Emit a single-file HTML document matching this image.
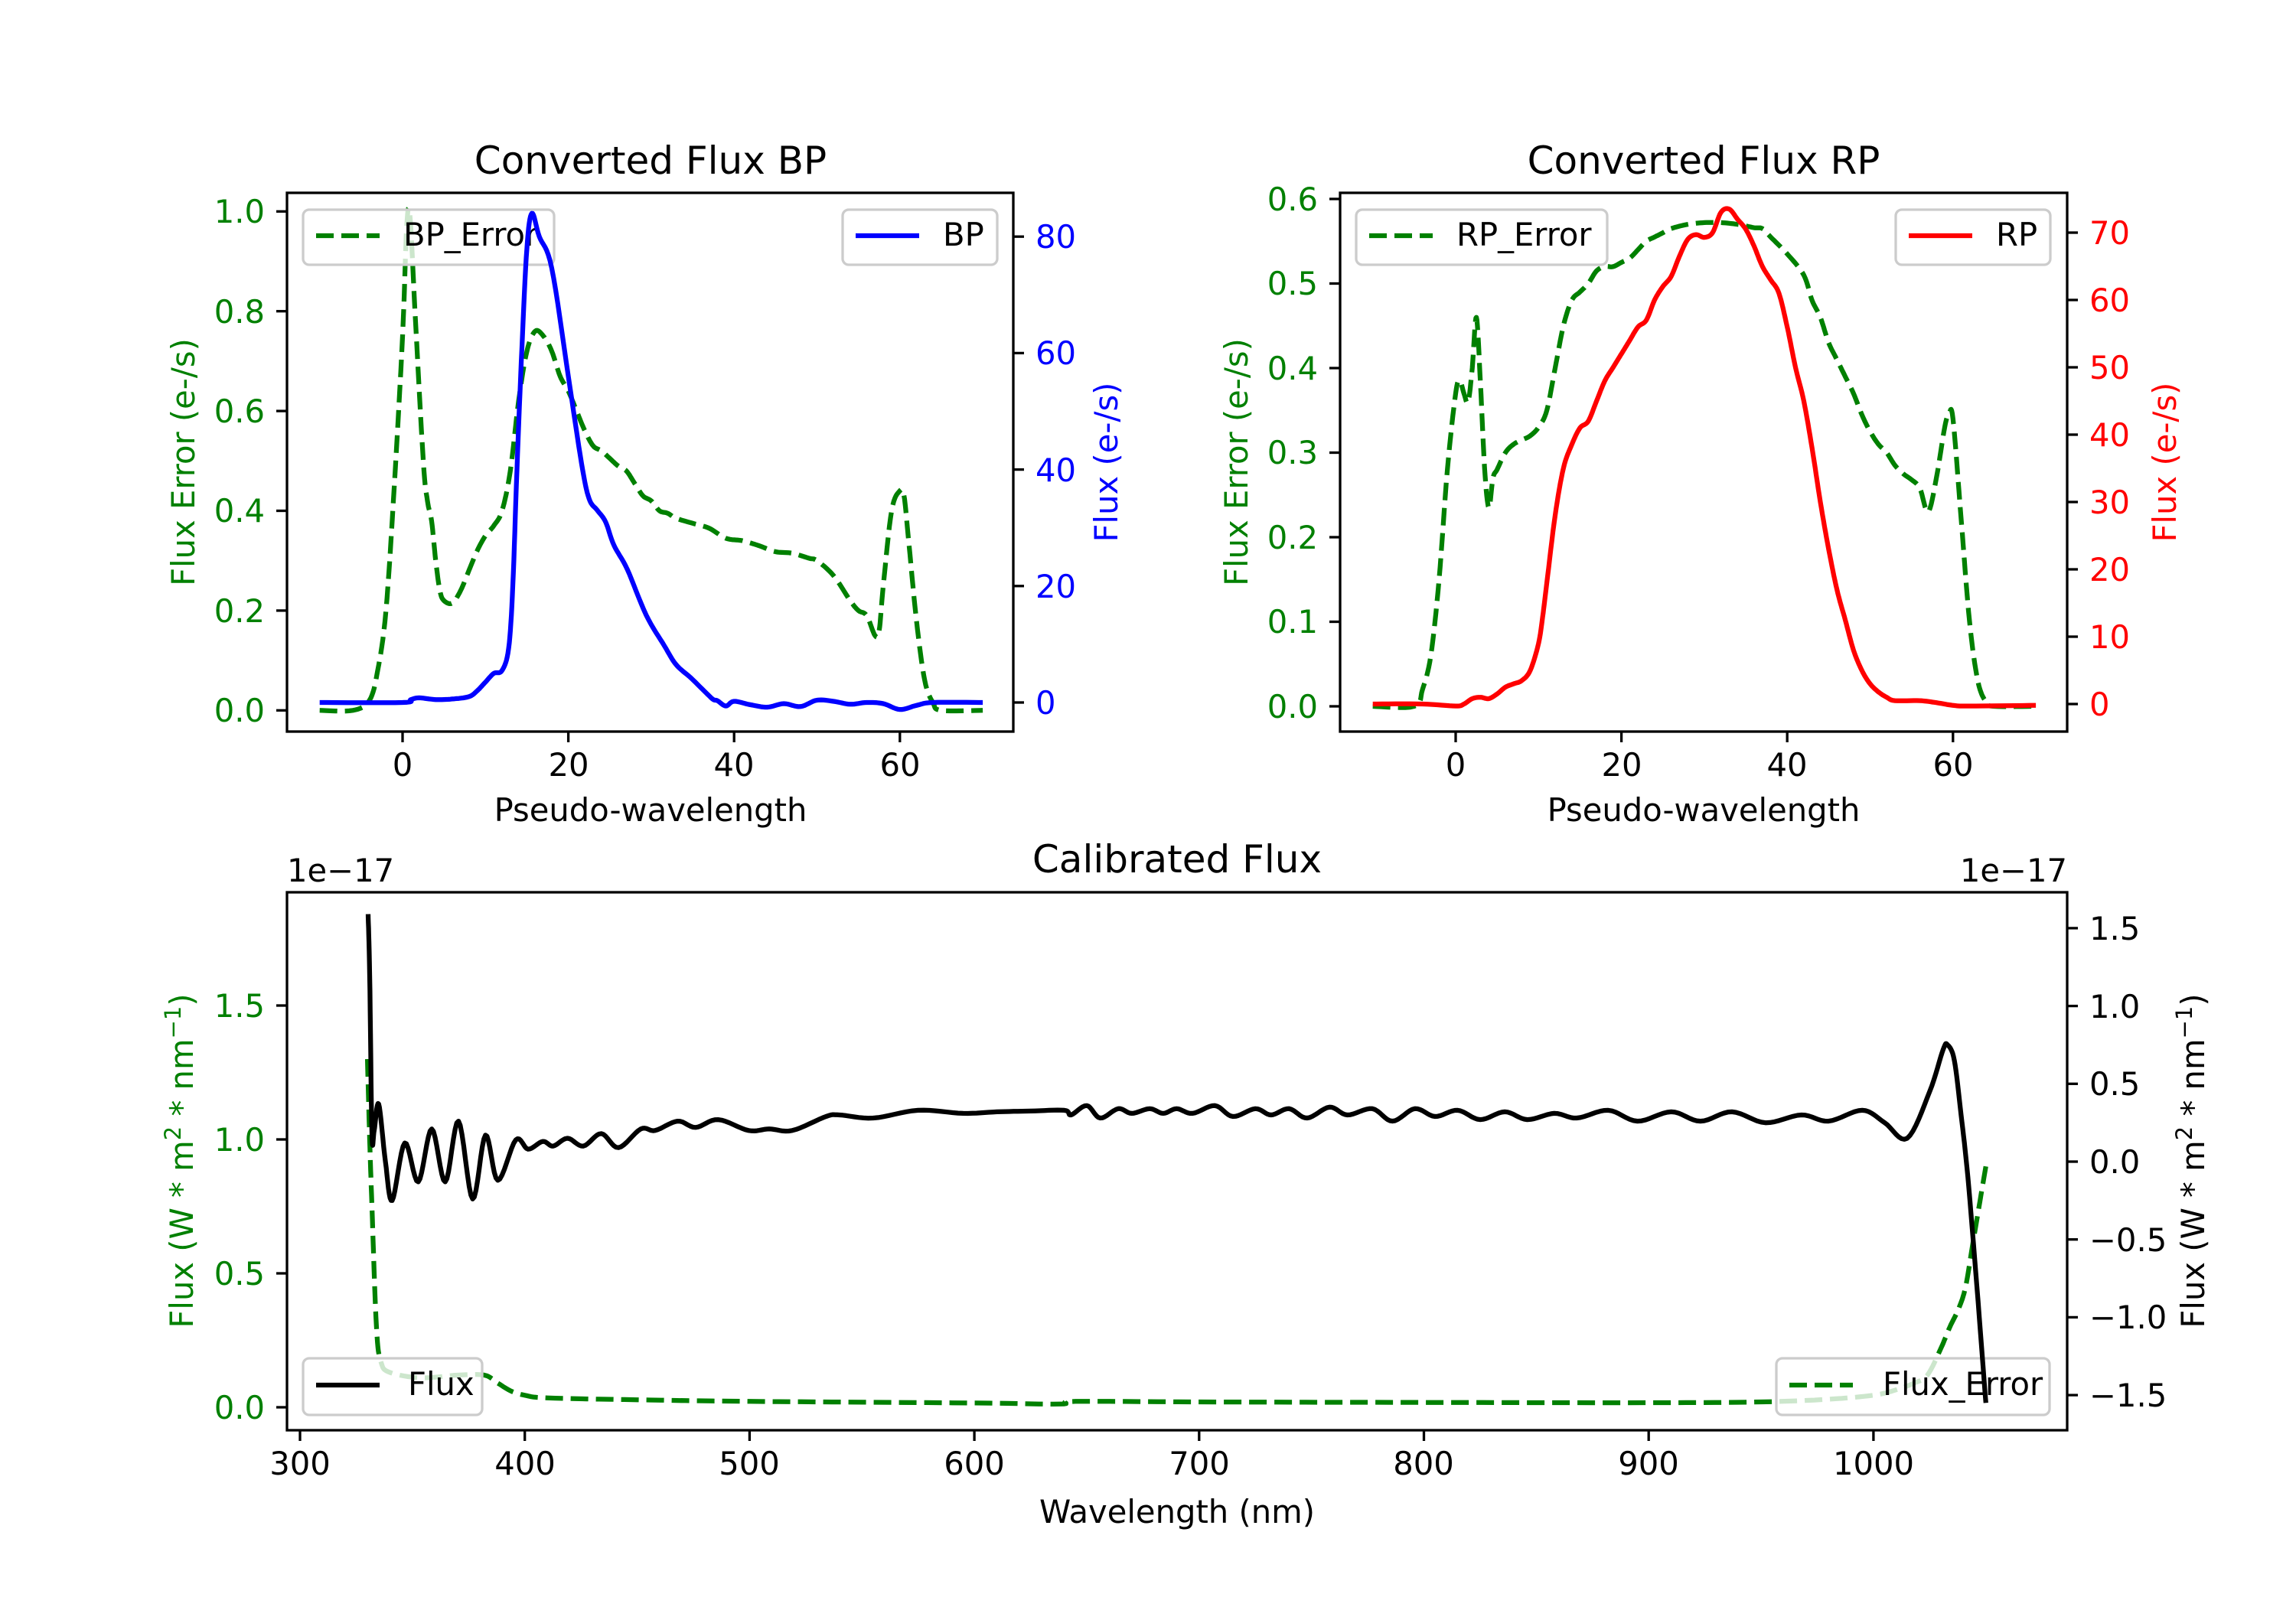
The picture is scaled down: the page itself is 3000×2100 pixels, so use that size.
<!DOCTYPE html>
<html><head><meta charset="utf-8"><style>
html,body{margin:0;padding:0;background:#fff}
svg{display:block}
text{font-family:"DejaVu Sans","Liberation Sans",sans-serif}
</style></head><body>
<svg id="s" width="3000" height="2100" viewBox="0 0 3000 2100" xmlns="http://www.w3.org/2000/svg">
<rect width="3000" height="2100" fill="#fff"/>
<defs>
<clipPath id="cBP"><rect x="375" y="252" width="949" height="704"/></clipPath>
<clipPath id="cRP"><rect x="1751" y="252" width="950" height="704"/></clipPath>
<clipPath id="cCF"><rect x="375" y="1166" width="2326" height="703"/></clipPath>
</defs>
<g id="layer"></g>

<text x="850" y="227" font-size="50" text-anchor="middle">Converted Flux BP</text>
<text x="2226" y="227" font-size="50" text-anchor="middle">Converted Flux RP</text>
<text x="1538" y="1140" font-size="50" text-anchor="middle">Calibrated Flux</text>

<g font-size="41.7" fill="#000" text-anchor="middle">
<text x="526" y="1014">0</text><text x="743" y="1014">20</text><text x="959" y="1014">40</text><text x="1176" y="1014">60</text>
<text x="1902" y="1014">0</text><text x="2119" y="1014">20</text><text x="2335" y="1014">40</text><text x="2552" y="1014">60</text>
</g>
<text x="850" y="1073" font-size="41.7" text-anchor="middle">Pseudo-wavelength</text>
<text x="2226" y="1073" font-size="41.7" text-anchor="middle">Pseudo-wavelength</text>
<g font-size="41.7" fill="#008000" text-anchor="end">
<text x="346" y="943">0.0</text><text x="346" y="813">0.2</text><text x="346" y="682">0.4</text><text x="346" y="552">0.6</text><text x="346" y="422">0.8</text><text x="346" y="291">1.0</text>
<text x="1722" y="938">0.0</text><text x="1722" y="827">0.1</text><text x="1722" y="717">0.2</text><text x="1722" y="606">0.3</text><text x="1722" y="496">0.4</text><text x="1722" y="385">0.5</text><text x="1722" y="275">0.6</text>
</g>
<g font-size="41.7" fill="#0000ff">
<text x="1353" y="933">0</text><text x="1353" y="781">20</text><text x="1353" y="629">40</text><text x="1353" y="476">60</text><text x="1353" y="324">80</text>
</g>
<g font-size="41.7" fill="#ff0000">
<text x="2730" y="935">0</text><text x="2730" y="847">10</text><text x="2730" y="759">20</text><text x="2730" y="671">30</text><text x="2730" y="583">40</text><text x="2730" y="495">50</text><text x="2730" y="407">60</text><text x="2730" y="319">70</text>
</g>
<text transform="translate(254,604) rotate(-90)" font-size="41.7" fill="#008000" text-anchor="middle">Flux Error (e-/s)</text>
<text transform="translate(1460,604) rotate(-90)" font-size="41.7" fill="#0000ff" text-anchor="middle">Flux (e-/s)</text>
<text transform="translate(1630,604) rotate(-90)" font-size="41.7" fill="#008000" text-anchor="middle">Flux Error (e-/s)</text>
<text transform="translate(2843,604) rotate(-90)" font-size="41.7" fill="#ff0000" text-anchor="middle">Flux (e-/s)</text>

<g font-size="41.7" fill="#000" text-anchor="middle">
<text x="392" y="1927">300</text><text x="686" y="1927">400</text><text x="979" y="1927">500</text><text x="1273" y="1927">600</text><text x="1567" y="1927">700</text><text x="1860" y="1927">800</text><text x="2154" y="1927">900</text><text x="2448" y="1927">1000</text>
</g>
<text x="1538" y="1990" font-size="41.7" text-anchor="middle">Wavelength (nm)</text>
<g font-size="41.7" fill="#008000" text-anchor="end">
<text x="346" y="1854">0.0</text><text x="346" y="1679">0.5</text><text x="346" y="1504">1.0</text><text x="346" y="1329">1.5</text>
</g>
<g font-size="41.7" fill="#000">
<text x="2730" y="1228">1.5</text><text x="2730" y="1330">1.0</text><text x="2730" y="1431">0.5</text><text x="2730" y="1533">0.0</text>
<text x="2730" y="1635">−0.5</text><text x="2730" y="1736">−1.0</text><text x="2730" y="1838">−1.5</text>
</g>
<text x="375" y="1152" font-size="41.7">1e−17</text>
<text x="2701" y="1152" font-size="41.7" text-anchor="end">1e−17</text>
<text transform="translate(252,1517) rotate(-90)" font-size="41.7" fill="#008000" text-anchor="middle">Flux (W * m<tspan font-size="29" dy="-16">2</tspan><tspan dy="16"> * nm</tspan><tspan font-size="29" dy="-16">−1</tspan><tspan dy="16">)</tspan></text>
<text transform="translate(2880,1517) rotate(-90)" font-size="41.7" fill="#000" text-anchor="middle">Flux (W * m<tspan font-size="29" dy="-16">2</tspan><tspan dy="16"> * nm</tspan><tspan font-size="29" dy="-16">−1</tspan><tspan dy="16">)</tspan></text>
</svg>
<script>
(function(){
var NS="http://www.w3.org/2000/svg", L=document.getElementById('layer');
function el(t,a){var e=document.createElementNS(NS,t);for(var k in a)e.setAttribute(k,a[k]);L.appendChild(e);return e;}
function cr(k,n){var o=[];for(var i=0;i<k.length-1;i++){var p0=k[Math.max(0,i-1)],p1=k[i],p2=k[i+1],p3=k[Math.min(k.length-1,i+2)];
for(var j=0;j<n;j++){var t=j/n,t2=t*t,t3=t2*t;
var f=function(a,b,c,d){return 0.5*((2*b)+(-a+c)*t+(2*a-5*b+4*c-d)*t2+(-a+3*b-3*c+d)*t3);};
o.push([f(p0[0],p1[0],p2[0],p3[0]),f(p0[1],p1[1],p2[1],p3[1])]);}}
o.push(k[k.length-1]);return o;}
function path(k,fx,fy,st,clip){var p=cr(k,8),d='';p.forEach(function(q,i){d+=(i?'L':'M')+fx(q[0]).toFixed(1)+' '+fy(q[1]).toFixed(1);});
var a={d:d,fill:'none','stroke-width':6.25,'stroke-linejoin':'round'};for(var x in st)a[x]=st[x];a['clip-path']='url(#'+clip+')';el('path',a);}
function legend(x,y,w,h,col,dash,label,tx){el('rect',{x:x,y:y,width:w,height:h,rx:8,fill:'#fff','fill-opacity':0.8,stroke:'#cccccc','stroke-width':3.3});
var a={x1:x+17,x2:x+100,y1:y+h/2-2,y2:y+h/2-2,stroke:col,'stroke-width':6.25};if(dash)a['stroke-dasharray']='23 10';el('line',a);
var t=el('text',{x:tx,y:y+h/2+11,'font-size':41.7,fill:'#000'});t.textContent=label;}
function frame(x,y,w,h){el('rect',{x:x,y:y,width:w,height:h,fill:'none',stroke:'#000','stroke-width':3.3});}
function tick(x1,y1,x2,y2){el('line',{x1:x1,y1:y1,x2:x2,y2:y2,stroke:'#000','stroke-width':3.3});}
var G={stroke:'#008000','stroke-dasharray':'23 10'};
var bx=function(v){return 526+v*10.83;}, by=function(v){return 928.3-v*652;}, byr=function(v){return 918-v*7.61;};
var bpe=[[-10,0],[-6,0],[-4,0.02],[-3,0.08],[-2,0.2],[-1,0.45],[0,0.75],[0.5,0.97],[0.9,0.99],[1.5,0.8],[2.5,0.5],[3,0.42],[3.5,0.38],[4,0.3],[4.5,0.24],[5,0.22],[6,0.215],[7,0.24],[8,0.28],[9,0.32],[10,0.35],[11,0.37],[12,0.4],[13,0.48],[14,0.62],[15,0.72],[16,0.76],[17,0.75],[18,0.72],[19,0.67],[20,0.64],[21,0.6],[22,0.56],[23,0.53],[24,0.52],[25,0.505],[26,0.49],[27,0.48],[28,0.455],[29,0.43],[30,0.42],[31,0.4],[32,0.395],[33,0.385],[35,0.375],[37,0.365],[39,0.345],[41,0.34],[43,0.33],[45,0.318],[47,0.315],[49,0.305],[50,0.3],[52,0.27],[54,0.22],[55,0.2],[56,0.19],[57,0.15],[57.5,0.16],[58,0.25],[59,0.4],[60,0.44],[60.5,0.43],[61,0.35],[62,0.18],[63,0.06],[64,0.015],[65,0],[70,0]];
var bpf=[[-10,0],[0,0],[1,0.5],[2,0.8],[4,0.5],[6,0.6],[8,1.0],[9,2],[10,3.5],[11,5],[12,5.5],[12.8,9.3],[13.3,20],[13.8,40],[14.4,61],[15,78],[15.6,84],[16.5,80],[18,74.6],[20,56],[21.6,41],[22.5,35],[23.5,33],[24.5,31],[25.5,27],[27.1,22.9],[29.4,15],[31.6,9.7],[33,6.5],[34.8,4.2],[36.8,1.4],[37.5,0.5],[38,0.3],[39,-0.6],[40,0.2],[42,-0.4],[44,-0.8],[46,-0.2],[48,-0.7],[50,0.4],[52,0.2],[54,-0.3],[56,0],[58,-0.2],[60,-1.2],[62,-0.5],[64,0],[70,0]];
path(bpe,bx,by,G,'cBP');
legend(396,274,328,72,'#008000',true,'BP_Error',527);
path(bpf,bx,byr,{stroke:'#0000ff'},'cBP');
legend(1101,274,202,72,'#0000ff',false,'BP',1232);
var rx=function(v){return 1902+v*10.83;}, ry=function(v){return 923-v*1105;}, ryr=function(v){return 920-v*8.8;};
var rpe=[[-10,0],[-5,0],[-4,0.02],[-3,0.06],[-2,0.15],[-1,0.28],[0,0.37],[0.5,0.385],[1,0.37],[1.5,0.36],[2,0.4],[2.5,0.46],[3,0.38],[3.5,0.28],[4,0.235],[4.5,0.27],[5,0.28],[6,0.3],[7,0.31],[8,0.315],[9,0.32],[10,0.33],[11,0.35],[12,0.4],[13,0.45],[14,0.48],[15,0.49],[16,0.5],[17,0.515],[18,0.52],[19,0.52],[20,0.525],[21,0.53],[22,0.54],[23,0.55],[24,0.555],[25,0.56],[26,0.565],[28,0.57],[30,0.572],[32,0.572],[34,0.57],[36,0.566],[37,0.565],[38,0.555],[40,0.535],[42,0.51],[43,0.48],[44,0.46],[45,0.43],[46,0.41],[47,0.39],[48,0.37],[49,0.345],[50,0.325],[51,0.31],[52,0.3],[53,0.285],[54,0.275],[55,0.268],[56,0.258],[57,0.23],[58,0.27],[59,0.33],[59.5,0.345],[60,0.34],[61,0.22],[62,0.1],[63,0.03],[64,0.005],[65,0],[70,0]];
var rpf=[[-10,0],[-4,0],[0,-0.3],[1,0],[2,0.8],[3,1],[4,0.8],[5,1.5],[6,2.5],[7,3],[8,3.5],[9,5],[10,9],[10.5,13],[11,18],[12,28],[13,35],[14,38.5],[15,41],[16,42],[17,45],[18,48],[19,50],[20,52],[21,54],[22,56],[23,57],[24,60],[25,62],[26,63.5],[27,66.5],[28,69],[29,69.7],[30,69.3],[31,70],[32,73],[33,73.5],[34,72],[35,70.5],[36,68],[37,65],[38,63],[39,61],[40,56],[41,50],[42,45],[43,38],[44,30],[45,23],[46,17],[47,12.5],[48,8],[49,5],[50,3],[51,1.8],[52,1],[53,0.5],[56,0.5],[58,0.2],[60,-0.2],[62,-0.3],[70,-0.2]];
path(rpe,rx,ry,G,'cRP');
legend(1772,274,328,72,'#008000',true,'RP_Error',1903);
path(rpf,rx,ryr,{stroke:'#ff0000'},'cRP');
legend(2477,274,202,72,'#ff0000',false,'RP',2608);
var cx=function(v){return 392+(v-300)*2.937;}, cy=function(v){return 1839-v*350;}, cyr=function(v){return 1518-v*203.4;};
var fe=[[330,1.3],[331,1.0],[332,0.75],[334,0.3],[336,0.17],[340,0.13],[354,0.11],[370,0.12],[382,0.12],[388,0.09],[394,0.06],[400,0.045],[410,0.035],[450,0.028],[500,0.022],[600,0.016],[638,0.012],[645,0.022],[700,0.02],[800,0.018],[900,0.017],[950,0.02],[980,0.03],[1000,0.045],[1010,0.065],[1018,0.09],[1024,0.12],[1030,0.22],[1034,0.3],[1038,0.37],[1041,0.45],[1044,0.6],[1047,0.75],[1050,0.9]];
var ff=[[330.3,1.59],[331,1.2],[332,0.18],[333,0.2],[335,0.37],[338,0.0],[341,-0.25],[346.6,0.12],[352.6,-0.13],[358.6,0.21],[364.6,-0.13],[370.5,0.26],[376.8,-0.24],[382.5,0.17],[388,-0.12],[396,0.14],[401.5,0.08],[408,0.13],[412.6,0.1],[419,0.15],[426,0.1],[434,0.18],[441.7,0.09],[451.6,0.21],[458,0.2],[468,0.26],[476,0.22],[486,0.27],[499.6,0.2],[508.7,0.21],[519,0.2],[534,0.29],[540,0.3],[555,0.28],[575,0.33],[595,0.31],[610,0.32],[625,0.325],[640,0.33],[643,0.3],[650,0.36],[656,0.28],[664,0.34],[670,0.31],[678,0.34],[684,0.31],[690,0.34],[697,0.31],[707,0.36],[715,0.29],[725,0.34],[732,0.3],[740,0.34],[748,0.28],[758,0.35],[766,0.3],[777,0.34],[786,0.26],[796,0.34],[805,0.29],[815,0.33],[825,0.27],[836,0.32],[846,0.27],[858,0.31],[868,0.28],[882,0.33],[895,0.26],[910,0.32],[923,0.26],[937,0.32],[952,0.25],[968,0.3],[980,0.26],[995,0.33],[1005,0.25],[1015,0.15],[1025,0.45],[1031,0.72],[1033,0.75],[1036,0.65],[1039,0.3],[1042,-0.1],[1046,-0.8],[1050,-1.55]];
path(fe,cx,cy,G,'cCF');
legend(2321,1775,357,74,'#008000',true,'Flux_Error',2460);
path(ff,cx,cyr,{stroke:'#000'},'cCF');
legend(396,1775,234,74,'#000',false,'Flux',533);
frame(375,252,949,704);frame(1751,252,950,704);frame(375,1166,2326,703);
[0,20,40,60].forEach(function(v){tick(bx(v),956,bx(v),970);tick(rx(v),956,rx(v),970);});
[0,.2,.4,.6,.8,1].forEach(function(v){tick(375,by(v),361,by(v));});
[0,20,40,60,80].forEach(function(v){tick(1324,byr(v),1338,byr(v));});
[0,.1,.2,.3,.4,.5,.6].forEach(function(v){tick(1751,ry(v),1737,ry(v));});
[0,10,20,30,40,50,60,70].forEach(function(v){tick(2701,ryr(v),2715,ryr(v));});
[300,400,500,600,700,800,900,1000].forEach(function(v){tick(cx(v),1869,cx(v),1883);});
[0,.5,1,1.5].forEach(function(v){tick(375,cy(v),361,cy(v));});
[-1.5,-1,-.5,0,.5,1,1.5].forEach(function(v){tick(2701,cyr(v),2715,cyr(v));});
})();
</script>
</body></html>
